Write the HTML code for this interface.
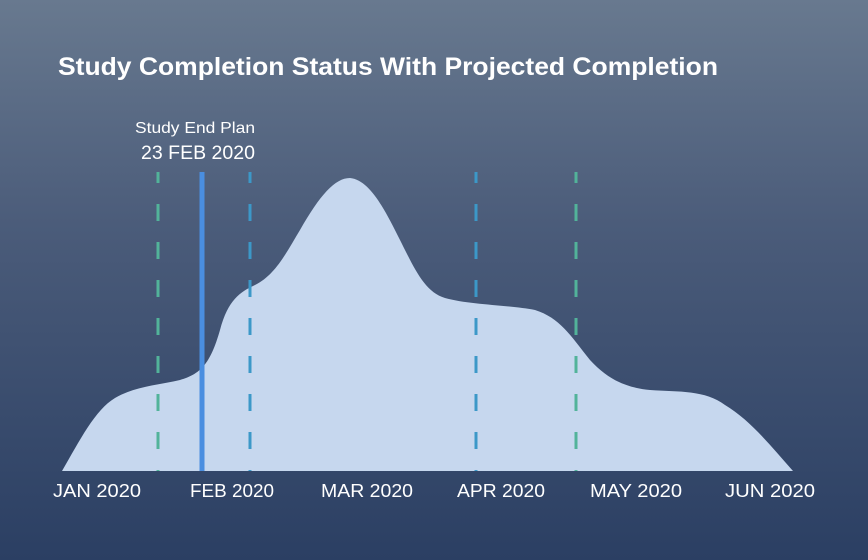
<!DOCTYPE html>
<html><head><style>
html,body{margin:0;padding:0;}
body{width:868px;height:560px;overflow:hidden;background:linear-gradient(180deg,#68798f 0%,#4b5c7a 40%,#2b3f63 100%);font-family:"Liberation Sans",sans-serif;}
</style></head><body>
<svg width="868" height="560" xmlns="http://www.w3.org/2000/svg" style="position:absolute;left:0;top:0">
<text x="58" y="75" fill="#fff" font-size="25" font-weight="bold" textLength="660" lengthAdjust="spacingAndGlyphs" font-family="Liberation Sans, sans-serif">Study Completion Status With Projected Completion</text>
<path d="M62,471 C80,440 95,410 115,398 C135,386 160,385 180,380 C200,374 210,365 220,330 C228,300 240,292 255,285 C275,275 285,255 300,230 C320,195 335,178 350,178 C370,180 385,210 400,240 C415,270 425,292 445,298 C470,305 510,305 535,310 C560,318 570,335 590,360 C610,382 630,388 650,390 C680,392 705,390 725,405 C750,420 770,445 793,471 Z" fill="#c6d7ee"/>
<g stroke-width="3" stroke-dasharray="17 21" stroke-dashoffset="6">
<line x1="158" y1="172" x2="158" y2="471" stroke="#52b39a"/>
<line x1="250" y1="172" x2="250" y2="471" stroke="#3c98c8"/>
<line x1="476" y1="172" x2="476" y2="471" stroke="#3c98c8"/>
<line x1="576" y1="172" x2="576" y2="471" stroke="#52b39a"/>
</g>
<line x1="202" y1="172" x2="202" y2="471" stroke="#4a8ee0" stroke-width="5"/>
<text x="255" y="133" fill="#fff" font-size="16" text-anchor="end" textLength="120" lengthAdjust="spacingAndGlyphs">Study End Plan</text>
<text x="255" y="159" fill="#fff" font-size="19" text-anchor="end" textLength="114" lengthAdjust="spacingAndGlyphs">23 FEB 2020</text>
<g fill="#fff" font-size="18" text-anchor="middle">
<text x="97" y="497" textLength="88" lengthAdjust="spacingAndGlyphs">JAN 2020</text>
<text x="232" y="497" textLength="84" lengthAdjust="spacingAndGlyphs">FEB 2020</text>
<text x="367" y="497" textLength="92" lengthAdjust="spacingAndGlyphs">MAR 2020</text>
<text x="501" y="497" textLength="88" lengthAdjust="spacingAndGlyphs">APR 2020</text>
<text x="636" y="497" textLength="92" lengthAdjust="spacingAndGlyphs">MAY 2020</text>
<text x="770" y="497" textLength="90" lengthAdjust="spacingAndGlyphs">JUN 2020</text>
</g>
</svg>
</body></html>
